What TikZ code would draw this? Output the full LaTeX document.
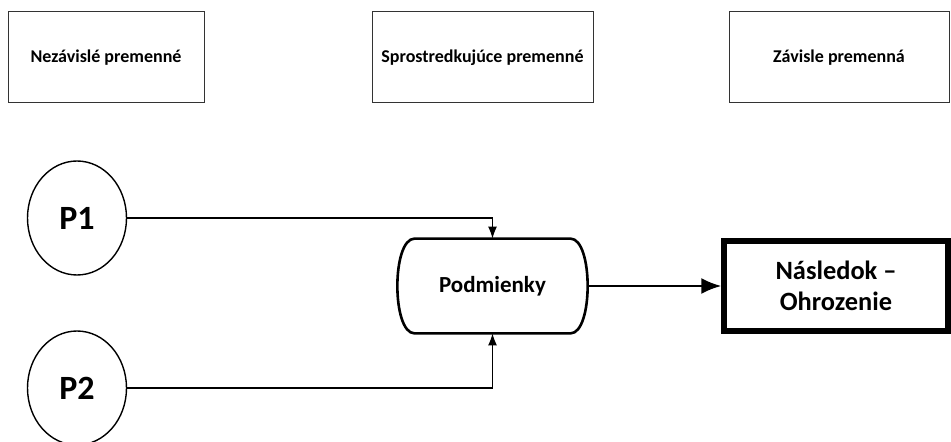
\documentclass[tikz,border=0pt]{standalone}
\usepackage{fontspec}
\setmainfont{Carlito}
\usetikzlibrary{positioning}
\usetikzlibrary{shapes.geometric}
\usetikzlibrary{arrows.meta}
\begin{document}
\begin{tikzpicture}[x=0.5pt,y=-0.5pt,
	hlavicka/.style={draw=black!80,line width=0.5pt,minimum height=45.5pt,font=\bfseries\fontsize{9}{11}\selectfont},
	premenna/.style={draw,ellipse,line width=0.7pt,minimum width=49.5pt,minimum height=57pt,font=\bfseries\fontsize{17}{20}\selectfont},
	sipka/.style={line width=0.6pt,-{Latex[length=6pt,width=4.5pt]}}]
	\useasboundingbox (0,0) rectangle (951,442);										% okraje
	\node[hlavicka,minimum width=98pt] (nezav) at (106,57.5) {Nezávislé  premenné};
	\node[hlavicka,minimum width=110.5pt] (spros) at (482.5,57.5) {Sprostredkujúce premenné};
	\node[hlavicka,minimum width=110pt] (zavis) at (839,57.5) {Závisle premenná};
	\node[premenna] (p1) at (77,218) {P1};
	\node[premenna] (p2) at (77,388) {P2};
	\node[minimum width=77.5pt,minimum height=47pt,inner sep=0pt,
		font=\bfseries\fontsize{11.5}{14}\selectfont] (podm) at (492.5,286) {Podmienky};
	\draw[line width=1.3pt] (podm.north west) -- (podm.north east)
		.. controls +(23,0) and +(23,0) .. (podm.south east) -- (podm.south west)
		.. controls +(-23,0) and +(-23,0) .. cycle;										% obrys
	\node[draw,line width=2.6pt,minimum width=112pt,minimum height=45pt,align=center,
		font=\bfseries\fontsize{13.2}{15.5}\selectfont] (nasl) at (836,286) {Následok –\\Ohrozenie};
	\draw[sipka] (p1) -| (podm);
	\draw[sipka] (p2) -| (podm);
	\draw[line width=1.3pt,-{Latex[length=10pt,width=8pt]}] (podm.east) ++(17,0) -- (nasl.west);
\end{tikzpicture}
\end{document}
